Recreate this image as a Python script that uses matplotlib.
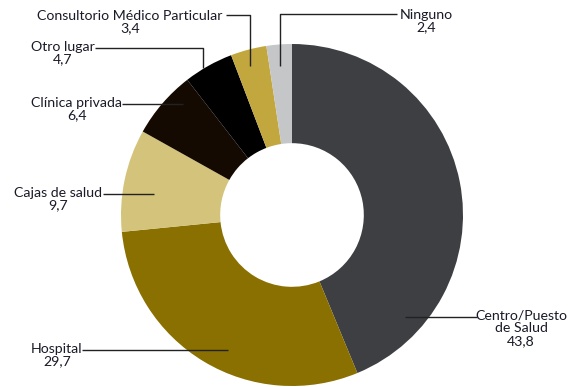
import matplotlib
matplotlib.use("Agg")
import matplotlib.pyplot as plt

# data
categories = ["Centro/Puesto\nde Salud", "Hospital", "Cajas de salud", "Clínica privada",
              "Otro lugar", "Consultorio Médico Particular", "Ninguno"]
values = [43.8, 29.7, 9.7, 6.4, 4.7, 3.4, 2.4]
value_labels = ["43,8", "29,7", "9,7", "6,4", "4,7", "3,4", "2,4"]
colors = ["#3d3f43", "#8a7000", "#d4c37a", "#140a02", "#000000", "#c2a73e", "#c4c6c8"]

W, H = 569, 387
plt.rcParams['font.family'] = ['Lato', 'DejaVu Sans']

fig = plt.figure(figsize=(W / 100, H / 100), dpi=100)
ax = fig.add_axes([0, 0, 1, 1])
ax.axis('off')

# donut drawn in pixel space
cx, cy, r = 292, 215, 171
ax.pie(values, colors=colors, startangle=90, counterclock=False,
       center=(cx, H - cy), radius=r,
       wedgeprops=dict(width=r * 0.58, linewidth=0))
ax.set_xlim(0, W)
ax.set_ylim(0, H)
ax.set_aspect('equal')

# label text position (center x, first-line y) and leader lines, pixel coords y-down
label_pos = [(521, 317), (57, 350), (58, 194), (77, 104), (63, 48), (130, 17), (426, 16)]
leaders = [
    [(477, 317), (405, 317)],
    [(82, 350), (228, 350)],
    [(103, 194), (154, 194)],
    [(122, 104), (183, 104)],
    [(95, 48), (203, 48), (203, 68)],
    [(226, 15), (250, 15), (250, 66)],
    [(397, 14), (280, 14), (280, 66)],
]

for name, val, (tx, ty), path in zip(categories, value_labels, label_pos, leaders):
    ax.text(tx, H - ty + 7, name + "\n" + val, ha='center', va='top',
            multialignment='center', fontsize=10.2, color='#1a1a28', linespacing=1.05)
    xs = [p[0] for p in path]
    ys = [H - p[1] for p in path]
    ax.plot(xs, ys, color='#222222', linewidth=1.0, solid_capstyle='butt')

fig.savefig("out.png", dpi=100)
